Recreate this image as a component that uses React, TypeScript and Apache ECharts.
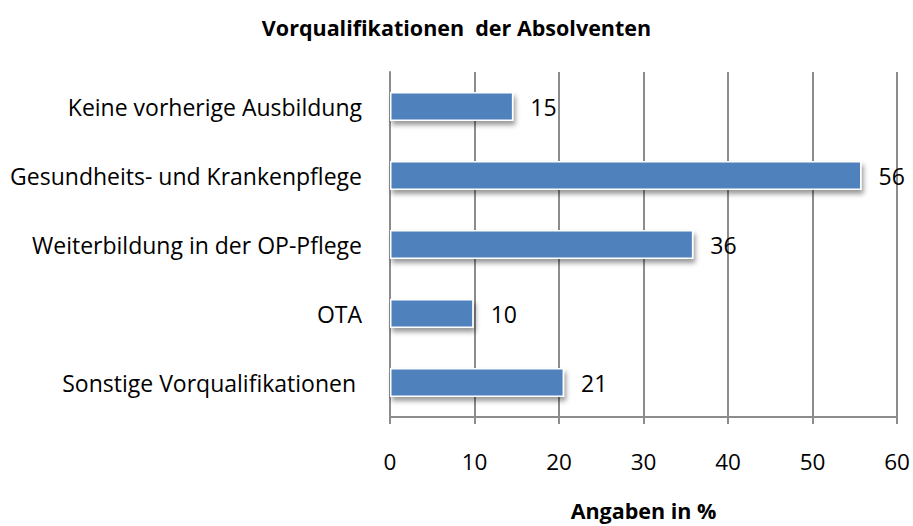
import React, { useEffect, useRef } from "react";
import * as echarts from "echarts";

const categories = [
  "Keine vorherige Ausbildung",
  "Gesundheits- und Krankenpflege",
  "Weiterbildung in der OP-Pflege",
  "OTA",
  "Sonstige Vorqualifikationen ",
];
const values = [14.6, 55.8, 35.9, 9.9, 20.6];
const labels = ["15", "56", "36", "10", "21"];
const xTicks = [0, 10, 20, 30, 40, 50, 60];

const FONT = "'Open Sans', Lato, sans-serif";

export default function App() {
  const ref = useRef<HTMLDivElement>(null);
  useEffect(() => {
    const chart = echarts.init(ref.current!, null, { renderer: "svg" });
    chart.setOption({
      animation: false,
      backgroundColor: "#ffffff",
      title: {
        text: "Vorqualifikationen  der Absolventen",
        left: "center",
        top: 11,
        textStyle: { fontFamily: FONT, fontSize: 21.5, fontWeight: "bold", color: "#000" },
      },
      grid: { left: 390, right: 16, top: 72, bottom: 108 },
      xAxis: {
        type: "value",
        min: xTicks[0],
        max: xTicks[xTicks.length - 1],
        interval: 10,
        name: "Angaben in %",
        nameLocation: "middle",
        nameGap: 82,
        nameTextStyle: { fontFamily: FONT, fontSize: 21.5, fontWeight: "bold", color: "#000" },
        axisLine: { show: true, lineStyle: { color: "#8c8c8c", width: 2 } },
        axisTick: { show: true, length: 7, lineStyle: { color: "#8c8c8c", width: 2 } },
        axisLabel: { fontFamily: FONT, fontSize: 22.5, color: "#000", margin: 33 },
        splitLine: { show: true, lineStyle: { color: "#8c8c8c", width: 2 } },
      },
      yAxis: {
        type: "category",
        data: categories,
        inverse: true,
        axisLine: { show: true, lineStyle: { color: "#8c8c8c", width: 2 } },
        axisTick: { show: false },
        axisLabel: { fontFamily: FONT, fontSize: 23, color: "#000", margin: 28 },
      },
      series: [
        {
          type: "bar",
          data: values,
          barWidth: 29,
          itemStyle: {
            color: "#4f81bd",
            borderColor: "#ffffff",
            borderWidth: 1.5,
            shadowColor: "rgba(0,0,0,0.4)",
            shadowBlur: 5,
            shadowOffsetX: 2,
            shadowOffsetY: 4,
          },
          label: {
            show: true,
            position: "right",
            distance: 17,
            fontFamily: FONT,
            fontSize: 23,
            color: "#000",
            formatter: (p: any) => labels[p.dataIndex],
          },
        },
      ],
    });
    return () => chart.dispose();
  }, []);
  return (
    <div
      ref={ref}
      style={{ position: "absolute", left: 0, top: 0, width: 913, height: 526 }}
    />
  );
}
